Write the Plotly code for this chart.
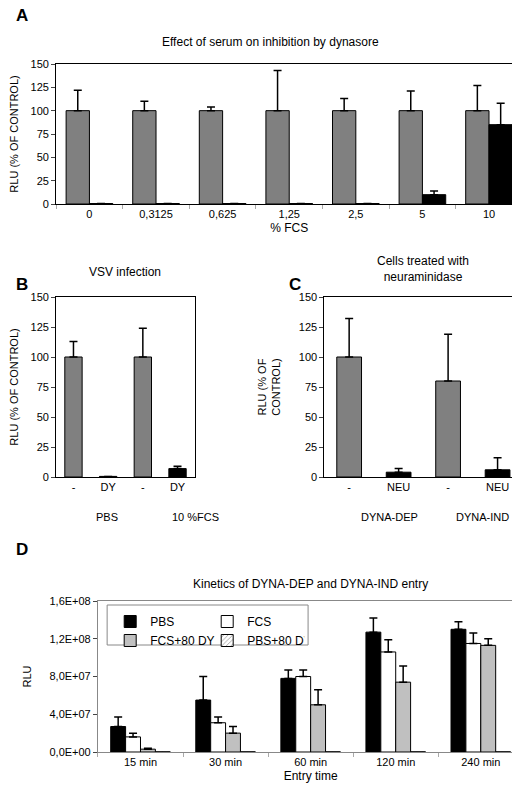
import plotly.graph_objects as go

# --- Panel A ---
fcs_levels = ["0", "0,3125", "0,625", "1,25", "2,5", "5", "10"]
a_ctrl = [100, 100, 100, 100, 100, 100, 100]
a_ctrl_err = [22, 10, 4, 43, 13, 21, 27]
a_dyn = [0.5, 0.5, 0.5, 0.5, 0.5, 10, 85]
a_dyn_err = [0, 0, 0, 0, 0, 4, 23]

# --- Panel B ---
b_cats = ["PBS -", "PBS DY", "FCS -", "FCS DY"]
b_ticks = ["-", "DY", "-", "DY"]
b_vals = [100, 0.5, 100, 7]
b_err = [13, 0, 24, 2]
b_colors = ["#808080", "#000000", "#808080", "#000000"]
b_groups = ["PBS", "10 %FCS"]

# --- Panel C ---
c_cats = ["DEP -", "DEP NEU", "IND -", "IND NEU"]
c_ticks = ["-", "NEU", "-", "NEU"]
c_vals = [100, 4, 80, 6]
c_err = [32, 3, 39, 10]
c_groups = ["DYNA-DEP", "DYNA-IND"]

pct_ticks = [0, 25, 50, 75, 100, 125, 150]

# --- Panel D ---
times = ["15 min", "30 min", "60 min", "120 min", "240 min"]
d_pbs = [2.7e7, 5.5e7, 7.8e7, 12.7e7, 13.0e7]
d_pbs_err = [1.0e7, 2.5e7, 0.9e7, 1.5e7, 0.8e7]
d_fcs = [1.6e7, 3.1e7, 8.0e7, 10.6e7, 11.5e7]
d_fcs_err = [0.4e7, 0.6e7, 0.7e7, 1.3e7, 1.1e7]
d_fcsdy = [0.3e7, 2.0e7, 5.0e7, 7.4e7, 11.3e7]
d_fcsdy_err = [0.1e7, 0.7e7, 1.6e7, 1.7e7, 0.7e7]
d_pbsdy = [0.02e7, 0.02e7, 0.02e7, 0.02e7, 0.02e7]
d_tickvals = [0, 4e7, 8e7, 1.2e8, 1.6e8]
d_ticktext = ["0,0E+00", "4,0E+07", "8,0E+07", "1,2E+08", "1,6E+08"]

FONT = "Liberation Sans, Arial, sans-serif"
line = dict(color="black", width=1)


# pixel -> paper, corrected for how the page gets rendered
def px(x):
    return min(max((x - 13.7) / 0.969 / 520, 0), 1)


def py(y):
    return min(max(1 - (y - 13) / 0.985 / 800, 0), 1)


def err(vals):
    return dict(type="data", array=vals, arrayminus=[0] * len(vals), symmetric=False,
                color="black", thickness=1.5, width=4)


fig = go.Figure()

# A
fig.add_trace(go.Bar(x=fcs_levels, y=a_ctrl, error_y=err(a_ctrl_err), marker=dict(color="#808080", line=line),
                     xaxis="x", yaxis="y", showlegend=False))
fig.add_trace(go.Bar(x=fcs_levels, y=a_dyn, error_y=err(a_dyn_err), marker=dict(color="#000000", line=line),
                     xaxis="x", yaxis="y", showlegend=False))
# B
fig.add_trace(go.Bar(x=b_cats, y=b_vals, error_y=err(b_err), marker=dict(color=b_colors, line=line),
                     xaxis="x2", yaxis="y2", showlegend=False, width=0.5))
# C
fig.add_trace(go.Bar(x=c_cats, y=c_vals, error_y=err(c_err), marker=dict(color=b_colors, line=line),
                     xaxis="x3", yaxis="y3", showlegend=False, width=0.5))
# D
fig.add_trace(go.Bar(x=times, y=d_pbs, name="PBS", error_y=err(d_pbs_err), marker=dict(color="black", line=line),
                     xaxis="x4", yaxis="y4", legend="legend"))
fig.add_trace(go.Bar(x=times, y=d_fcs, name="FCS", error_y=err(d_fcs_err), marker=dict(color="white", line=line),
                     xaxis="x4", yaxis="y4", legend="legend"))
fig.add_trace(go.Bar(x=times, y=d_fcsdy, name="FCS+80 DY", error_y=err(d_fcsdy_err),
                     marker=dict(color="#c0c0c0", line=line), xaxis="x4", yaxis="y4", legend="legend2"))
fig.add_trace(go.Bar(x=times, y=d_pbsdy, name="PBS+80 DY",
                     marker=dict(color="white", line=line, pattern=dict(shape="/", fgcolor="black", size=4)),
                     xaxis="x4", yaxis="y4", legend="legend2"))

ax_common = dict(showline=True, linecolor="black", mirror=True, ticks="outside", ticklen=4,
                 tickfont=dict(size=11, color="black"), showgrid=False, zeroline=False)
x_common = dict(showline=True, linecolor="black", mirror=True, tickfont=dict(size=11, color="black"),
                showgrid=False, type="category", fixedrange=True)
x_bound = dict(ticks="outside", tickson="boundaries", ticklen=4, tickcolor="#aaaaaa")

fig.update_layout(
    width=520, height=800, margin=dict(l=0, r=0, t=0, b=0),
    paper_bgcolor="white", plot_bgcolor="white",
    font=dict(family=FONT, size=11, color="black"),
    barmode="group", bargap=0.3, bargroupgap=0,
    xaxis=dict(domain=[px(55), px(512)], anchor="y", title=dict(text="% FCS", font=dict(size=12), standoff=4),
               **x_common, **x_bound),
    yaxis=dict(domain=[py(203), py(63)], anchor="x", range=[0, 150], tickvals=pct_ticks,
               title=dict(text="RLU (% OF CONTROL)", font=dict(size=11)), **ax_common),
    xaxis2=dict(domain=[px(55), px(191)], anchor="y2", tickvals=b_cats, ticktext=b_ticks, ticks="", **x_common),
    yaxis2=dict(domain=[py(476), py(296)], anchor="x2", range=[0, 150], tickvals=pct_ticks,
                title=dict(text="RLU (% OF CONTROL)", font=dict(size=11)), **ax_common),
    xaxis3=dict(domain=[px(318), px(512)], anchor="y3", tickvals=c_cats, ticktext=c_ticks, ticks="", **x_common),
    yaxis3=dict(domain=[py(476), py(296)], anchor="x3", range=[0, 150], tickvals=pct_ticks,
                title=dict(text="RLU (% OF<br>CONTROL)", font=dict(size=11)), **ax_common),
    xaxis4=dict(domain=[px(96), px(513)], anchor="y4", title=dict(text="Entry time", font=dict(size=12), standoff=4),
                **x_common, **x_bound),
    yaxis4=dict(domain=[py(751), py(600)], anchor="x4", range=[0, 1.6e8], tickvals=d_tickvals, ticktext=d_ticktext,
                title=dict(text="RLU", font=dict(size=11)), **ax_common),
    legend=dict(x=px(108), y=py(606), xanchor="left", yanchor="top", orientation="h", entrywidth=52,
                font=dict(size=12), bgcolor="rgba(0,0,0,0)", itemwidth=30, traceorder="normal",
                tracegroupgap=0),
    legend2=dict(x=px(108), y=py(625), xanchor="left", yanchor="top", orientation="h", entrywidth=52,
                 font=dict(size=12), bgcolor="rgba(0,0,0,0)", itemwidth=30, traceorder="normal",
                 tracegroupgap=0),
)
fig.layout.yaxis4.linecolor = "#888888"
fig.layout.xaxis4.linecolor = "#888888"

# legend box for D
fig.add_shape(type="rect", xref="paper", yref="paper", x0=px(105), x1=px(302), y0=py(644),
              y1=py(604), line=dict(color="#888888", width=1), fillcolor="rgba(0,0,0,0)")

annots = [
    dict(x=px(10), y=py(14), text="<b>A</b>", font=dict(size=17)),
    dict(x=px(10), y=py(283), text="<b>B</b>", font=dict(size=17)),
    dict(x=px(281), y=py(283), text="<b>C</b>", font=dict(size=17)),
    dict(x=px(10), y=py(548), text="<b>D</b>", font=dict(size=17)),
    dict(x=px(265), y=py(41), text="Effect of serum on inhibition by dynasore", xanchor="center", font=dict(size=12)),
    dict(x=px(123), y=py(271), text="VSV infection", xanchor="center", font=dict(size=12)),
    dict(x=px(415), y=py(268), text="Cells treated with<br>neuraminidase", xanchor="center", font=dict(size=12)),
    dict(x=px(304), y=py(583), text="Kinetics of DYNA-DEP and DYNA-IND entry", xanchor="center", font=dict(size=12)),
    dict(x=px(105), y=py(516), text=b_groups[0], xanchor="center", font=dict(size=11)),
    dict(x=px(192), y=py(516), text=b_groups[1], xanchor="center", font=dict(size=11)),
    dict(x=px(382), y=py(516), text=c_groups[0], xanchor="center", font=dict(size=11)),
    dict(x=px(473), y=py(516), text=c_groups[1], xanchor="center", font=dict(size=11)),
]
for a in annots:
    a.setdefault("xanchor", "left")
    fig.add_annotation(xref="paper", yref="paper", showarrow=False, yanchor="middle", **a)

fig.write_html("out.html")
